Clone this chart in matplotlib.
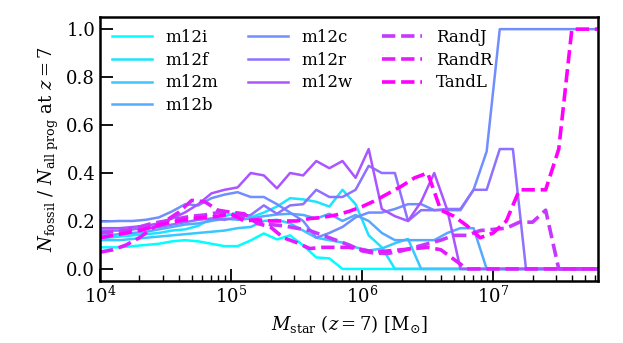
import numpy as np
import matplotlib
matplotlib.use('Agg')
import matplotlib.pyplot as plt

# fraction of fossils among all progenitors, per stellar-mass bin (z=7)
# simulations: bin centres 3.95 ... 7.85 in log10 Mstar
lgm_sims = np.round(np.arange(3.95, 7.86, 0.1), 2)
m12i = [0.09, 0.09, 0.09, 0.095, 0.10, 0.105, 0.115, 0.12, 0.115, 0.105,
        0.095, 0.095, 0.119, 0.148, 0.123, 0.14, 0.098, 0.048, 0.044, 0.0,
        0, 0, 0, 0, 0, 0, 0, 0, 0, 0, 0, 0, 0, 0, 0, 0, 0, 0, 0, 0]
m12f = [0.13, 0.13, 0.135, 0.14, 0.145, 0.15, 0.16, 0.165, 0.18, 0.21,
        0.22, 0.235, 0.215, 0.235, 0.26, 0.295, 0.29, 0.28, 0.26, 0.33,
        0.27, 0.14, 0.09, 0.0, 0, 0, 0, 0, 0, 0, 0, 0, 0, 0, 0, 0, 0, 0, 0, 0]
m12m = [0.12, 0.12, 0.12, 0.125, 0.13, 0.135, 0.14, 0.145, 0.15, 0.155,
        0.16, 0.17, 0.175, 0.2, 0.205, 0.19, 0.16, 0.13, 0.12, 0.11,
        0.09, 0.077, 0.085, 0.107, 0.125, 0.0, 0, 0, 0, 0, 0, 0, 0, 0, 0, 0, 0, 0, 0, 0]
m12b = [0.14, 0.14, 0.145, 0.15, 0.155, 0.165, 0.175, 0.185, 0.19, 0.2,
        0.21, 0.205, 0.21, 0.22, 0.227, 0.23, 0.225, 0.21, 0.23, 0.2,
        0.225, 0.2, 0.15, 0.12, 0.12, 0.12, 0.12, 0.15, 0.17, 0.17,
        0.0, 0, 0, 0, 0, 0, 0, 0, 0, 0]
m12c = [0.198, 0.198, 0.2, 0.2, 0.205, 0.215, 0.24, 0.27, 0.265, 0.295,
        0.31, 0.32, 0.30, 0.30, 0.27, 0.235, 0.2, 0.13, 0.15, 0.175,
        0.215, 0.235, 0.235, 0.25, 0.27, 0.27, 0.245, 0.245, 0.245, 0.33,
        0.49, 1.0, 1.0, 1.0, 1.0, 1.0, 1.0, 1.0, 1.0, 1.0]
m12r = [0.16, 0.16, 0.16, 0.165, 0.17, 0.175, 0.185, 0.195, 0.205, 0.21,
        0.205, 0.215, 0.225, 0.265, 0.23, 0.265, 0.27, 0.33, 0.30, 0.30,
        0.33, 0.43, 0.40, 0.40, 0.20, 0.245, 0.245, 0.25, 0.25, 0.33,
        0.33, 0.5, 0.5, 0.0, 0, 0, 0, 0, 0, 0]
m12w = [0.17, 0.17, 0.17, 0.175, 0.18, 0.19, 0.21, 0.236, 0.27, 0.315,
        0.33, 0.34, 0.40, 0.39, 0.336, 0.40, 0.39, 0.45, 0.42, 0.45,
        0.38, 0.50, 0.25, 0.22, 0.20, 0.28, 0.40, 0.245, 0.0, 0,
        0, 0, 0, 0, 0, 0, 0, 0, 0, 0]

# models: bins 4.0 ... 7.8
lgm_models = np.round(np.arange(4.0, 7.81, 0.1), 2)
RandJ = [0.15, 0.155, 0.16, 0.175, 0.19, 0.2, 0.21, 0.22, 0.225, 0.235,
         0.225, 0.215, 0.195, 0.185, 0.18, 0.17, 0.16, 0.14, 0.12, 0.10,
         0.075, 0.065, 0.065, 0.075, 0.09, 0.105, 0.12, 0.14, 0.14, 0.16,
         0.165, 0.17, 0.195, 0.195, 0.245, 0.0, 0, 0, 0]
RandR = [0.07, 0.08, 0.10, 0.13, 0.17, 0.20, 0.236, 0.286, 0.28, 0.245,
         0.236, 0.23, 0.19, 0.175, 0.13, 0.11, 0.085, 0.09, 0.09, 0.09,
         0.08, 0.07, 0.075, 0.08, 0.085, 0.09, 0.08, 0.04, 0.0, 0,
         0, 0, 0, 0, 0, 0, 0, 0, 0]
TandL = [0.13, 0.14, 0.15, 0.16, 0.175, 0.19, 0.2, 0.21, 0.215, 0.22,
         0.23, 0.2, 0.205, 0.2, 0.2, 0.2, 0.21, 0.215, 0.225, 0.24,
         0.26, 0.285, 0.315, 0.345, 0.38, 0.40, 0.245, 0.22, 0.18, 0.13,
         0.15, 0.2, 0.33, 0.33, 0.33, 0.5, 1.0, 1.0, 1.0]

sims = {'m12i': m12i, 'm12f': m12f, 'm12m': m12m, 'm12b': m12b,
        'm12c': m12c, 'm12r': m12r, 'm12w': m12w}
models = {'RandJ': RandJ, 'RandR': RandR, 'TandL': TandL}

plt.rcParams['font.family'] = 'DejaVu Serif'
plt.rcParams['mathtext.fontset'] = 'dejavuserif'

colors = plt.cm.cool(np.linspace(0, 1, 10))

fig = plt.figure(figsize=(6.23, 3.43), dpi=100)
ax = fig.add_axes([0.1605, 0.181, 0.7995, 0.769])

i = 0
for name, vals in sims.items():
    ax.plot(10**lgm_sims, vals, color=colors[i], lw=1.8, label=name)
    i += 1
for name, vals in models.items():
    ax.plot(10**lgm_models, vals, color=colors[i], lw=2.6, ls='--', label=name)
    i += 1

ax.set_xscale('log')
ax.set_xlim(1e4, 10**7.8)
ax.set_ylim(-0.05, 1.05)
ax.set_yticks([0.0, 0.2, 0.4, 0.6, 0.8, 1.0])
ax.tick_params(which='major', direction='in', length=9, width=1.3, labelsize=13)
ax.tick_params(which='minor', direction='in', length=4.5, width=1.0)
for s in ax.spines.values():
    s.set_linewidth(1.8)

ax.set_xlabel(r'$M_{\rm star}$ ($z=7$) [M$_{\odot}$]', fontsize=13)
ax.set_ylabel(r'$N_{\rm fossil}$ / $N_{\rm all\ prog}$ at $z=7$', fontsize=13)

ax.legend(ncol=3, loc='upper left', frameon=False, fontsize=12,
          handlelength=2.4, labelspacing=0.35, columnspacing=1.8,
          borderaxespad=0.3)

fig.savefig('out.png', dpi=100)
